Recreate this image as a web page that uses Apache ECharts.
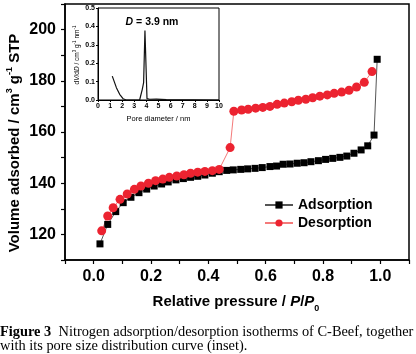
<!DOCTYPE html>
<html>
<head>
<meta charset="utf-8">
<script src="https://cdn.jsdelivr.net/npm/echarts@6/dist/echarts.min.js"></script>
<style>
  html, body { margin: 0; padding: 0; background: #fff; }
  #chart { width: 416px; height: 354px; }
</style>
</head>
<body>
<div id="chart"></div>
<script>
// adsorption branch (P/P0, volume)
const adsP = [0.022, 0.049, 0.077, 0.103, 0.130, 0.158, 0.185, 0.211, 0.237, 0.260, 0.287, 0.313, 0.338, 0.363,
  0.388, 0.414, 0.438, 0.464, 0.487, 0.513, 0.537, 0.563, 0.588, 0.615, 0.638, 0.661, 0.685, 0.710, 0.734,
  0.758, 0.784, 0.809, 0.834, 0.859, 0.883, 0.908, 0.933, 0.956, 0.978, 0.989]
const adsV = [116.3, 123.9, 128.9, 132.4, 134.5, 136.3, 137.7, 138.9, 139.7, 140.5, 141.3, 141.8, 142.3, 142.7,
  143.2, 143.9, 144.5, 145.0, 145.2, 145.4, 145.6, 145.8, 146.1, 146.5, 146.7, 147.4, 147.5, 147.8, 148.0,
  148.4, 148.8, 149.3, 149.7, 150.1, 150.6, 151.7, 153.0, 154.6, 158.8, 188.4]

// desorption branch
const desP = [0.028, 0.049, 0.068, 0.092, 0.117, 0.142, 0.165, 0.191, 0.216, 0.241, 0.264, 0.290, 0.315, 0.338,
  0.363, 0.388, 0.414, 0.438, 0.476, 0.489, 0.516, 0.539, 0.565, 0.590, 0.615, 0.640, 0.665, 0.691, 0.714,
  0.740, 0.764, 0.789, 0.815, 0.839, 0.865, 0.891, 0.917, 0.944, 0.971]
const desV = [121.4, 127.2, 130.4, 133.7, 135.8, 137.6, 138.9, 140.0, 141.0, 141.6, 142.3, 142.8, 143.3, 143.9,
  144.3, 144.6, 144.9, 145.4, 153.9, 168.1, 168.6, 168.9, 169.3, 169.6, 170.0, 170.8, 171.3, 171.8, 172.4,
  172.8, 173.4, 174.0, 174.5, 175.1, 175.6, 176.3, 177.6, 179.4, 183.6]

// inset: pore size distribution
const poreD = [1.18, 1.52, 1.79, 2.07, 2.34, 3.44, 3.66, 3.77, 3.88, 3.97, 4.05, 4.27, 4.82, 5.65, 10]
const poreDV = [0.13, 0.067, 0.031, 0.007, 0, 0, 0.058, 0.094, 0.378, 0.37, 0.007, 0.004, 0.005, 0.002, 0.0]

const pair = (xs, ys) => xs.map((x, i) => [x, ys[i]])

const chart = echarts.init(document.getElementById('chart'))
const sans = 'Liberation Sans, Arial, sans-serif'
const serif = 'Liberation Serif, Times New Roman, serif'

const option = {
  backgroundColor: '#fff',
  animation: false,
  grid: [
    { left: 65, top: 4, width: 344, height: 256, show: true, borderColor: '#000', borderWidth: 1.5, backgroundColor: 'transparent' },
    { left: 98, top: 8, width: 121, height: 92, show: true, borderColor: '#000', borderWidth: 1, backgroundColor: '#fff', z: 5 }
  ],
  xAxis: [
    {
      gridIndex: 0, type: 'value', min: -0.1, max: 1.1, interval: 0.1,
      axisLine: { onZero: false, lineStyle: { color: '#000', width: 1.5 } },
      axisTick: { inside: false, length: 4, lineStyle: { color: '#000', width: 1.2 } },
      splitLine: { show: false },
      axisLabel: {
        color: '#000', fontFamily: sans, fontWeight: 'bold', fontSize: 16, margin: 9,
        formatter: v => (Math.round(v * 10) % 2 === 0 ? (Math.round(v * 10) / 10).toFixed(1) : '')
      }
    },
    {
      gridIndex: 1, type: 'value', min: 0, max: 10, interval: 1, z: 6,
      axisLine: { onZero: false, lineStyle: { color: '#000', width: 1 } },
      axisTick: { length: 2, lineStyle: { color: '#000' } },
      splitLine: { show: false },
      axisLabel: { color: '#000', fontFamily: sans, fontWeight: 'bold', fontSize: 7, margin: 3 },
      name: 'Pore diameter / nm', nameLocation: 'middle', nameGap: 15,
      nameTextStyle: { color: '#000', fontFamily: sans, fontSize: 7.5 }
    }
  ],
  yAxis: [
    {
      gridIndex: 0, type: 'value', min: 110, max: 210, interval: 10,
      axisLine: { onZero: false, lineStyle: { color: '#000', width: 1.5 } },
      axisTick: { inside: false, length: 4, lineStyle: { color: '#000', width: 1.2 } },
      splitLine: { show: false },
      axisLabel: {
        color: '#000', fontFamily: sans, fontWeight: 'bold', fontSize: 16, margin: 9,
        formatter: v => (v % 20 === 0 && v < 210 && v > 110 ? String(v) : '')
      }
    },
    {
      gridIndex: 1, type: 'value', min: 0, max: 0.5, interval: 0.1, z: 6,
      axisLine: { onZero: false, lineStyle: { color: '#000', width: 1 } },
      axisTick: { length: 2, lineStyle: { color: '#000' } },
      splitLine: { show: false },
      axisLabel: {
        color: '#000', fontFamily: sans, fontWeight: 'bold', fontSize: 7, margin: 3,
        formatter: v => v.toFixed(1)
      }
    }
  ],
  legend: {
    orient: 'vertical', left: 259, top: 193, itemGap: 4,
    itemWidth: 28, itemHeight: 9,
    textStyle: { color: '#000', fontFamily: sans, fontWeight: 'bold', fontSize: 14 },
    data: ['Adsorption', 'Desorption']
  },
  series: [
    {
      name: 'Adsorption', type: 'line', xAxisIndex: 0, yAxisIndex: 0,
      data: pair(adsP, adsV),
      symbol: 'rect', symbolSize: 7,
      itemStyle: { color: '#000' },
      lineStyle: { color: '#555', width: 1 }
    },
    {
      name: 'Desorption', type: 'line', xAxisIndex: 0, yAxisIndex: 0,
      data: pair(desP, desV),
      symbol: 'circle', symbolSize: 9,
      itemStyle: { color: '#ec2330' },
      lineStyle: { color: '#f47a7a', width: 1 }
    },
    {
      name: 'PSD', type: 'line', xAxisIndex: 1, yAxisIndex: 1, z: 7,
      data: pair(poreD, poreDV),
      showSymbol: false, symbol: 'none',
      lineStyle: { color: '#111', width: 1.2 }
    }
  ],
  graphic: [
    {
      type: 'text', x: 15, y: 143, rotation: Math.PI / 2, z: 10,
      style: {
        x: 0, y: 0, align: 'center', verticalAlign: 'middle',
        text: '{t|Volume adsorbed / cm}{s|3}{t| g}{s|-1}{t| STP}',
        rich: {
          t: { fontFamily: sans, fontWeight: 'bold', fontSize: 15, fill: '#000', lineHeight: 20 },
          s: { fontFamily: sans, fontWeight: 'bold', fontSize: 9, fill: '#000', verticalAlign: 'top', lineHeight: 20 }
        }
      }
    },
    {
      type: 'text', x: 236, y: 302, z: 10,
      style: {
        x: 0, y: 0, align: 'center', verticalAlign: 'middle',
        text: '{t|Relative pressure / }{i|P}{t|/}{i|P}{s|0}',
        rich: {
          t: { fontFamily: sans, fontWeight: 'bold', fontSize: 15, fill: '#000', lineHeight: 22 },
          i: { fontFamily: sans, fontWeight: 'bold', fontStyle: 'italic', fontSize: 15, fill: '#000', lineHeight: 22 },
          s: { fontFamily: sans, fontWeight: 'bold', fontSize: 9, fill: '#000', verticalAlign: 'bottom', lineHeight: 22 }
        }
      }
    },
    {
      type: 'text', x: 77, y: 55, rotation: Math.PI / 2, z: 10,
      style: {
        x: 0, y: 0, align: 'center', verticalAlign: 'middle',
        text: '{t|d}{i|V}{t|/d}{i|D}{t| / cm}{s|3}{t| g}{s|-1}{t| nm}{s|-1}',
        rich: {
          t: { fontFamily: sans, fontSize: 6.5, fill: '#000', lineHeight: 9 },
          i: { fontFamily: sans, fontStyle: 'italic', fontSize: 6.5, fill: '#000', lineHeight: 9 },
          s: { fontFamily: sans, fontSize: 4.5, fill: '#000', verticalAlign: 'top', lineHeight: 9 }
        }
      }
    },
    {
      type: 'text', x: 152, y: 22, z: 10,
      style: {
        x: 0, y: 0, align: 'center', verticalAlign: 'middle',
        text: '{i|D}{t| = 3.9 nm}',
        rich: {
          t: { fontFamily: sans, fontWeight: 'bold', fontSize: 10.5, fill: '#000' },
          i: { fontFamily: sans, fontWeight: 'bold', fontStyle: 'italic', fontSize: 10.5, fill: '#000' }
        }
      }
    },
    {
      type: 'text', x: 0, y: 332, z: 10,
      style: {
        x: 0, y: 0, align: 'left', verticalAlign: 'middle',
        text: '{b|Figure 3}{t|  Nitrogen adsorption/desorption isotherms of C-Beef, together}',
        rich: {
          b: { fontFamily: serif, fontWeight: 'bold', fontSize: 14.4, fill: '#000' },
          t: { fontFamily: serif, fontSize: 14.4, fill: '#000' }
        }
      }
    },
    {
      type: 'text', x: 0, y: 346, z: 10,
      style: {
        x: 0, y: 0, align: 'left', verticalAlign: 'middle',
        text: 'with its pore size distribution curve (inset).',
        fontFamily: serif, fontSize: 14.4, fill: '#000'
      }
    }
  ]
}

chart.setOption(option)
</script>
</body>
</html>
